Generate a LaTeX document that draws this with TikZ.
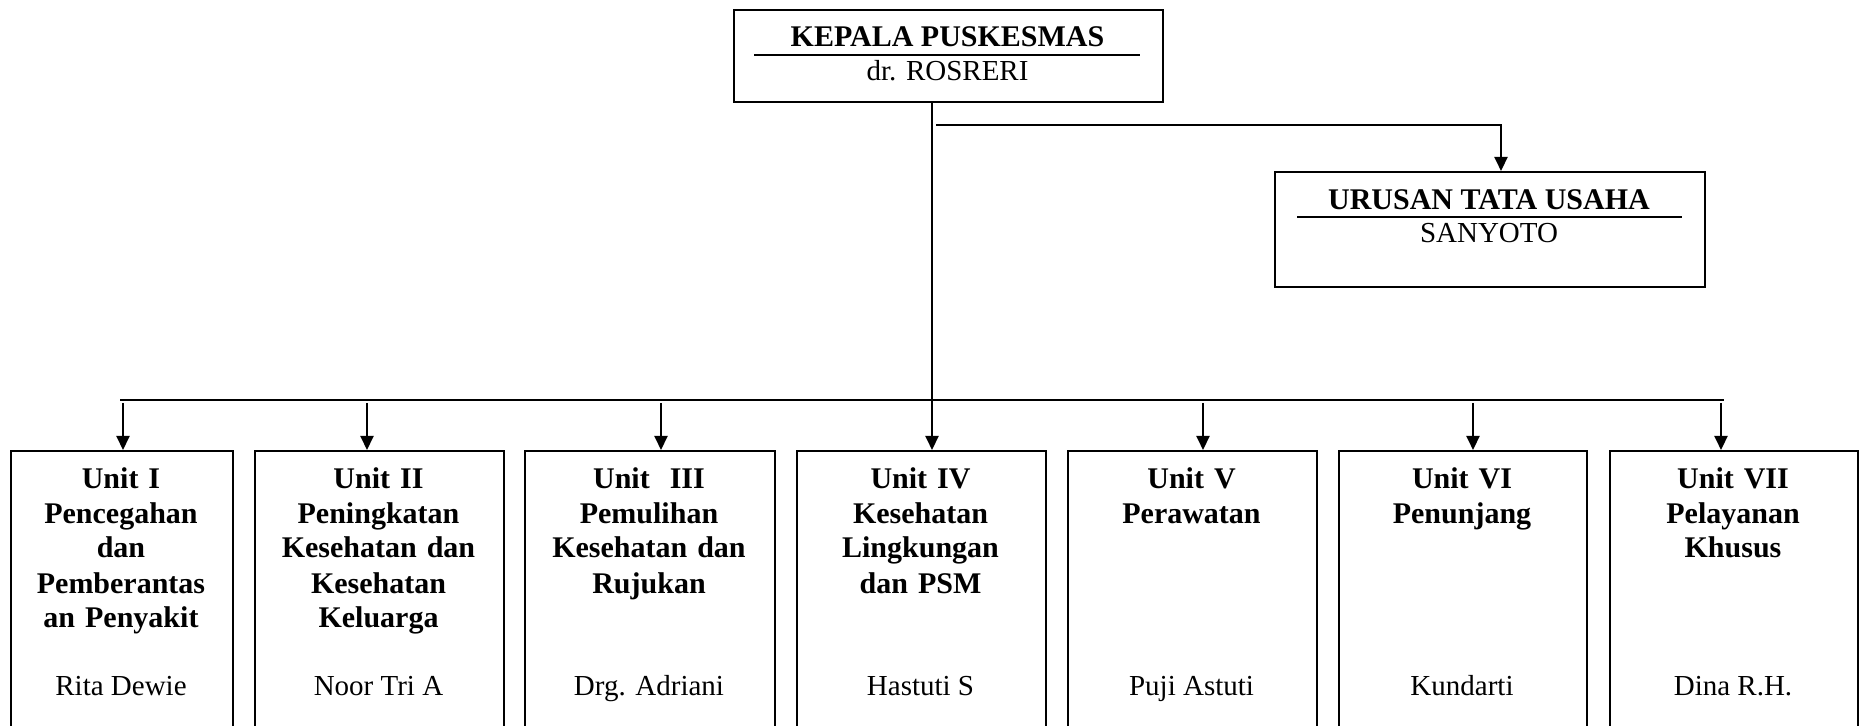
\documentclass[tikz,border=0pt]{standalone}
\usepackage{fontspec}
\setmainfont{Liberation Serif}
\usetikzlibrary{arrows.meta}
\begin{document}
\begin{tikzpicture}[x=0.5pt,y=-0.5pt,
  box/.style={draw, line width=1pt, inner sep=0pt, anchor=north west},
  unitbox/.style={box, minimum height=145pt},
  link/.style={line width=1pt},
  arr/.style={link, -{Triangle[length=7pt,width=6.5pt]}},
  head/.style={font=\fontsize{15}{17.5}\selectfont\bfseries, inner sep=0pt, anchor=base},
  who/.style={font=\fontsize{14.5}{17.5}\selectfont, inner sep=0pt, anchor=base},
  title/.style={head, align=center, text width=115pt}
]
\useasboundingbox (0,0) rectangle (1862,726);

% Head of the health centre
\node[box, minimum width=214.5pt, minimum height=46pt] (kepala) at (733,9) {};
\node[head] (kepalaT) at (947.5,47) {KEPALA PUSKESMAS};
\draw[link] (754,55) -- (1140,55);
\node[who] (kepalaN) at (947.5,81) {dr. ROSRERI};

% Administration
\node[box, minimum width=215pt, minimum height=57.5pt] (tu) at (1274,171) {};
\node[head] (tuT) at (1489,210) {URUSAN TATA USAHA};
\draw[link] (1297,217) -- (1682,217);
\node[who] (tuN) at (1489,243) {SANYOTO};

% Units
\node[unitbox, minimum width=111pt]   (u1) at (10,450) {};
\node[unitbox, minimum width=124.5pt] (u2) at (254,450) {};
\node[unitbox, minimum width=125pt]   (u3) at (524,450) {};
\node[unitbox, minimum width=124.5pt] (u4) at (796,450) {};
\node[unitbox, minimum width=124.5pt] (u5) at (1067,450) {};
\node[unitbox, minimum width=124pt]   (u6) at (1338,450) {};
\node[unitbox, minimum width=124pt]   (u7) at (1609,450) {};

\node[title] (u1T) at (121,488) {Unit I\\Pencegahan\\dan\\Pemberantas\\an Penyakit};
\node[title] (u2T) at (378.5,488) {Unit II\\Peningkatan\\Kesehatan dan\\Kesehatan\\Keluarga};
\node[title] (u3T) at (649,488) {Unit\ \ III\\Pemulihan\\Kesehatan dan\\Rujukan};
\node[title] (u4T) at (920.5,488) {Unit IV\\Kesehatan\\Lingkungan\\dan PSM};
\node[title] (u5T) at (1191.5,488) {Unit V\\Perawatan};
\node[title] (u6T) at (1462,488) {Unit VI\\Penunjang};
\node[title] (u7T) at (1733,488) {Unit VII\\Pelayanan\\Khusus};

\node[who] (u1N) at (121,695) {Rita Dewie};
\node[who] (u2N) at (378.5,695) {Noor Tri A};
\node[who] (u3N) at (649,695) {Drg. Adriani};
\node[who] (u4N) at (920.5,695) {Hastuti S};
\node[who] (u5N) at (1191.5,695) {Puji Astuti};
\node[who] (u6N) at (1462,695) {Kundarti};
\node[who] (u7N) at (1733,695) {Dina R.H.};

% Connector points
\coordinate (trunk) at (932,0);
\coordinate (tuX) at (1501,0);
\coordinate (busL) at (120,400);
\coordinate (busR) at (1724,400);
\coordinate (branch) at (936,125);

% Main trunk down to Unit IV
\draw[arr] (kepala.south -| trunk) -- (u4.north -| trunk);
% Branch to administration
\draw[arr] (branch) -| (tu.north -| tuX);
% Bus to the units
\draw[link] (busL) -- (busR);
\foreach \u/\x in {u1/123, u2/367, u3/661, u5/1203, u6/1473, u7/1721}
  \draw[arr] (\x,403) -- (\u.north -| \x,0);
\end{tikzpicture}
\end{document}
